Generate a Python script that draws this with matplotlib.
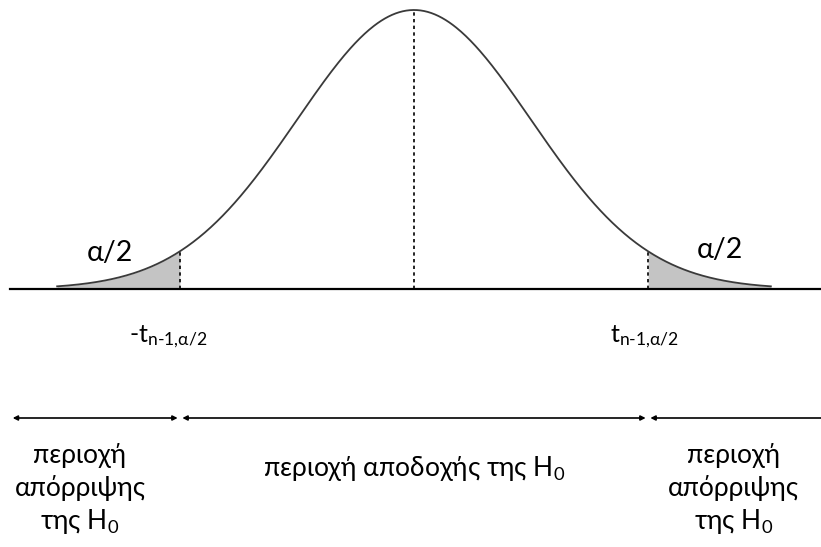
import numpy as np
import matplotlib.pyplot as plt

plt.rcParams['font.family'] = ['Lato', 'DejaVu Sans']
plt.rcParams['mathtext.fontset'] = 'custom'
plt.rcParams['mathtext.rm'] = 'Lato'
plt.rcParams['mathtext.it'] = 'Lato'
plt.rcParams['mathtext.default'] = 'rm'

# standardized bell curve, peak scaled to 1
z_crit = 2.0          # critical value ±t
z_tail = 3.05         # where the drawn curve stops
line_left = -3.45     # start of the horizontal axis line
arrow_left = -3.43
arrow_right = 3.7
gap = 0.02

tail_label = 'α/2'
crit_labels = [r'-t$_{n\text{-}1{,}α/2}$', r't$_{n\text{-}1{,}α/2}$']
reject_label = 'περιοχή\nαπόρριψης\nτης H$_0$'
accept_label = 'περιοχή αποδοχής της H$_0$'

z = np.linspace(-z_tail, z_tail, 600)
dens = np.exp(-z**2 / 2)

fig = plt.figure(figsize=(8.21, 5.47), dpi=100)
ax = fig.add_axes([0, 0, 1, 1])
ax.set_xlim(-414 / 117, 407 / 117)
ax.set_ylim(-258 / 279, 289 / 279)
ax.axis('off')

# shaded tails
left = z <= -z_crit
right = z >= z_crit
ax.fill_between(z[left], 0, dens[left], color='#c4c4c4', lw=0)
ax.fill_between(z[right], 0, dens[right], color='#c4c4c4', lw=0)

ax.plot(z, dens, color='#3a3a3a', lw=1.3)
ax.plot([line_left, arrow_right], [0, 0], color='black', lw=1.6)

# dashed verticals at the centre and the critical values
crit_h = np.exp(-z_crit**2 / 2)
ax.plot([0, 0], [0, 1], color='black', lw=1.2, ls=(0, (2, 2)))
for c in (-z_crit, z_crit):
    ax.plot([c, c], [0, crit_h], color='black', lw=1.2, ls=(0, (2, 2)))

ax.text(-2.6, 0.13, tail_label, fontsize=20.5, ha='center', va='center')
ax.text(2.615, 0.14, tail_label, fontsize=20.5, ha='center', va='center')

ax.text(-2.1, -0.17, crit_labels[0], fontsize=18, ha='center', va='center')
ax.text(1.97, -0.17, crit_labels[1], fontsize=18, ha='center', va='center')

# region arrows
arrow = dict(arrowstyle='<|-|>', color='black', lw=1.2, mutation_scale=7,
             shrinkA=0, shrinkB=0)
y_arr = -(418 - 289) / 279
ax.annotate('', xy=(arrow_left, y_arr), xytext=(-z_crit - gap, y_arr), arrowprops=arrow)
ax.annotate('', xy=(-z_crit + gap, y_arr), xytext=(z_crit - gap, y_arr), arrowprops=arrow)
ax.annotate('', xy=(z_crit + gap, y_arr), xytext=(arrow_right, y_arr), arrowprops=arrow)

ax.text(-2.855, -0.72, reject_label, fontsize=19, ha='center', va='center',
        linespacing=1.3)
ax.text(2.73, -0.72, reject_label, fontsize=19, ha='center', va='center',
        linespacing=1.3)
ax.text(0, -0.645, accept_label, fontsize=19, ha='center', va='center')

fig.savefig('out.png', dpi=100)
